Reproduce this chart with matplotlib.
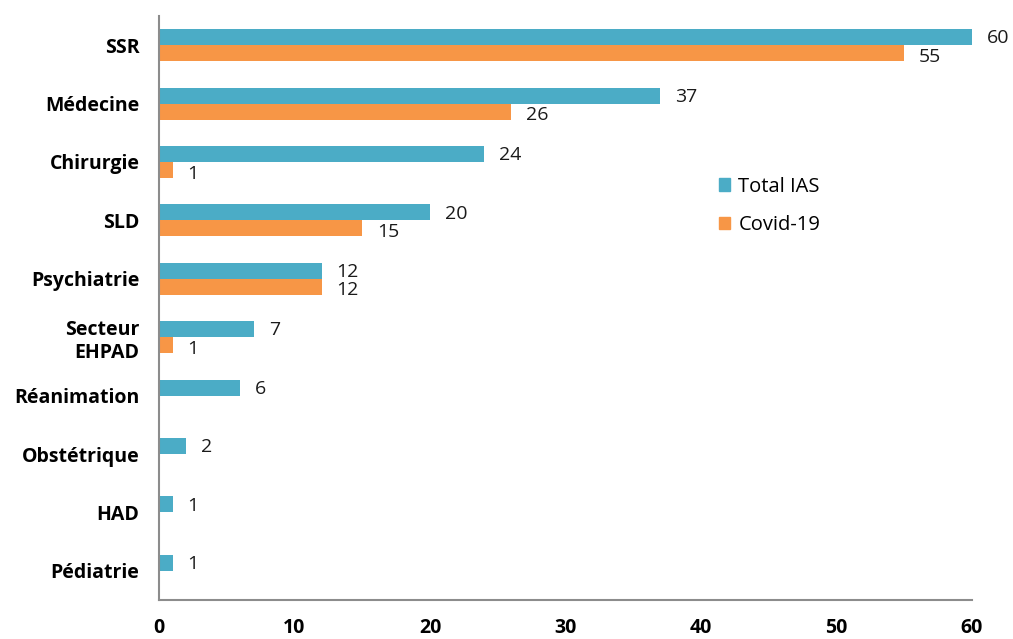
import matplotlib
matplotlib.use("Agg")
import matplotlib.pyplot as plt
from matplotlib.patches import Patch
import numpy as np

plt.rcParams['font.family'] = ['Open Sans', 'DejaVu Sans']

categories = ["SSR", "Médecine", "Chirurgie", "SLD", "Psychiatrie",
              "Secteur\nEHPAD", "Réanimation", "Obstétrique", "HAD", "Pédiatrie"]
total_ias = [60, 37, 24, 20, 12, 7, 6, 2, 1, 1]
covid_19 = [55, 26, 1, 15, 12, 1, 0, 0, 0, 0]
x_ticks = [0, 10, 20, 30, 40, 50, 60]

teal = "#4BACC6"
orange = "#F79646"
spine_col = "#8C8C8C"

fig = plt.figure(figsize=(10.13, 6.39), dpi=100)
ax = fig.add_axes([0.157, 0.061, 0.8025, 0.914])

y = np.arange(len(categories))
h = 0.275

ax.barh(y - h / 2, total_ias, height=h, color=teal, label="Total IAS")
cov_vals = np.array(covid_19, dtype=float)
mask = cov_vals > 0
ax.barh(y[mask] + h / 2, cov_vals[mask], height=h, color=orange, label="Covid-19")

for yi, v in zip(y, total_ias):
    ax.text(v + 1.1, yi - h / 2 + 0.02, str(v), va="center", ha="left",
            fontsize=14, color="#1a1a1a")
for yi, v in zip(y[mask], cov_vals[mask]):
    ax.text(v + 1.1, yi + h / 2 + 0.06, str(int(v)), va="center", ha="left",
            fontsize=14, color="#1a1a1a")

ax.set_ylim(len(categories) - 0.5, -0.5)
ax.set_xlim(0, 60)
ax.set_yticks(y)
ax.set_yticklabels(categories, fontweight="bold", fontsize=14, linespacing=1.2)
ax.set_xticks(x_ticks)
ax.set_xticklabels([str(t) for t in x_ticks], fontweight="bold", fontsize=14)
ax.tick_params(axis="both", length=0)
ax.tick_params(axis="x", pad=13)
ax.tick_params(axis="y", pad=14)

for s in ["top", "right"]:
    ax.spines[s].set_visible(False)
for s in ["left", "bottom"]:
    ax.spines[s].set_color(spine_col)
    ax.spines[s].set_linewidth(1.5)

handles = [Patch(color=teal), Patch(color=orange)]
fig.legend(handles, ["Total IAS", "Covid-19"], loc="upper left",
           bbox_to_anchor=(0.692, 0.752), frameon=False, fontsize=14.5,
           handlelength=0.55, handleheight=0.55, handletextpad=0.4,
           labelspacing=0.9)

fig.savefig("out.png", dpi=100)
